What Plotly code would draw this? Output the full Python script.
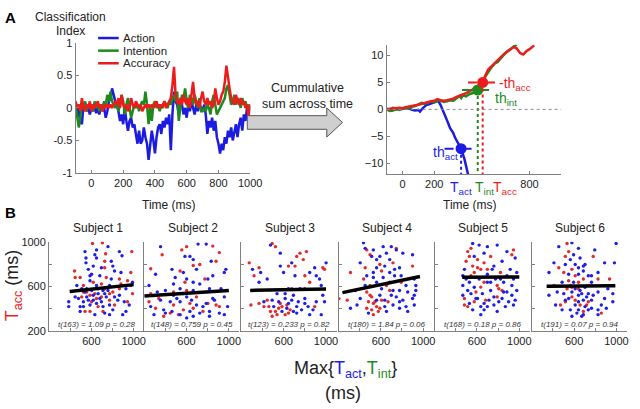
import plotly.graph_objects as go

W, H = 640, 409
FONT = "Liberation Sans, Arial, sans-serif"
C_BLUE = "#1c1ce0"
C_GREEN = "#1e8a1e"
C_RED = "#ec1c1c"
AX = "#808080"

# ---------------- Panel A (left): classification index ----------------
time_ms = list(range(-100, 1001, 10))
action_idx = [0.0, -0.15, 0.05, -0.2, -0.25, 0.05, 0.08, -0.05, 0.0, -0.1,
              0.0, -0.05, 0.02, -0.08, 0.0, -0.1, 0.05, -0.05, 0.0, -0.15,
              -0.05, 0.1, 0.15, 0.3, 0.2, 0.1, 0.05, -0.05, -0.2, -0.1,
              -0.25, 0.0, -0.2, -0.35, -0.2, -0.15, -0.3, -0.25, -0.4, -0.55,
              -0.35, -0.55, -0.5, -0.3, -0.45, -0.55, -0.8, -0.55, -0.35, -0.5,
              -0.7, -0.45, -0.3, -0.25, -0.4, -0.2, -0.3, -0.15, -0.25, -0.1,
              -0.65, -0.1, 0.25, 0.1, 0.05, -0.1, 0.15, 0.05, -0.1, 0.0,
              -0.15, 0.05, -0.05, 0.1, 0.0, -0.1, 0.05, -0.05, 0.05, 0.0,
              -0.05, 0.05, -0.1, -0.4, -0.2, -0.3, -0.15, -0.35, -0.2, -0.45,
              -0.55, -0.7, -0.55, -0.65, -0.45, -0.55, -0.35, -0.45, -0.3, -0.5,
              -0.35, -0.25, -0.45, -0.25, -0.15, -0.35, -0.1, -0.2, 0.0, -0.1, 0.05]
intention_idx = [0.05, -0.1, -0.3, -0.15, 0.05, 0.0, 0.1, -0.05, 0.05, 0.0,
                 0.05, -0.05, 0.1, 0.0, 0.05, -0.05, 0.05, 0.0, 0.1, 0.05,
                 0.2, 0.1, 0.25, 0.1, 0.05, 0.0, 0.1, -0.05, 0.05, 0.2,
                 0.1, -0.1, 0.05, 0.15, 0.0, -0.15, -0.05, 0.05, 0.0, 0.05,
                 -0.05, 0.05, 0.1, 0.05, 0.25, 0.05, -0.25, 0.0, -0.2, 0.05,
                 0.1, 0.0, 0.05, -0.05, 0.05, 0.0, 0.1, 0.05, 0.0, 0.1,
                 0.05, 0.15, 0.2, 0.1, 0.25, -0.2, 0.05, 0.2, 0.15, 0.3,
                 0.1, 0.0, 0.2, 0.15, 0.05, 0.2, 0.1, 0.0, 0.15, -0.05,
                 -0.05, 0.0, -0.05, 0.05, 0.0, -0.1, 0.1, 0.2, 0.05, -0.1,
                 -0.05, 0.0, 0.05, 0.1, 0.15, 0.3, 0.35, 0.2, 0.05, 0.1,
                 0.2, 0.05, 0.15, 0.1, 0.0, 0.15, 0.05, 0.1, 0.0, 0.05, -0.05]
accuracy_idx = [0.1, 0.0, 0.05, -0.05, 0.15, 0.0, -0.05, 0.05, 0.0, 0.1,
                -0.05, 0.05, 0.0, 0.05, 0.1, 0.0, 0.05, -0.05, 0.05, 0.0,
                0.05, 0.0, 0.05, 0.0, 0.05, 0.1, 0.05, 0.15, 0.0, 0.2,
                0.05, 0.0, 0.05, -0.05, 0.0, 0.15, 0.05, 0.0, 0.1, 0.05,
                0.0, 0.05, -0.05, 0.0, 0.05, 0.0, 0.05, 0.0, 0.05, 0.0,
                0.05, 0.1, 0.0, 0.05, 0.0, 0.05, 0.1, 0.0, 0.05, 0.1,
                0.15, 0.35, 0.63, 0.2, 0.1, 0.05, 0.15, 0.05, 0.2, 0.1,
                0.05, 0.15, 0.0, 0.2, 0.4, 0.15, 0.05, 0.1, 0.0, 0.15,
                0.25, 0.1, 0.05, 0.15, 0.05, 0.1, 0.0, 0.05, 0.3, 0.15,
                0.05, 0.1, 0.2, 0.25, 0.4, 0.65, 0.45, 0.3, 0.15, 0.1,
                0.05, 0.2, 0.1, 0.05, 0.15, 0.05, 0.1, 0.0, 0.05, -0.15, 0.05]
legend_names = ["Action", "Intention", "Accuracy"]

# ---------------- Panel A (right): cumulative sums ----------------
cum_act_t = [-100, -80, -60, -40, -20, 0, 20, 40, 60, 80, 100, 110, 130, 150, 170, 200, 225,
             240, 260, 280, 300, 320, 330, 350, 369, 390, 406, 420]
cum_act_v = [0.0, 0.1, -0.1, 0.0, 0.1, 0.2, 0.1, 0.2, -0.1, -0.2, -0.1, -0.4, 0.3, 0.8, 1.0, 1.3, 1.6,
             0.8, -0.5, -2.0, -3.5, -4.4, -5.2, -6.2, -7.3, -9.2, -11.5, -13.0]
cum_int_t = [-100, -80, -60, -40, -20, 0, 20, 40, 60, 80, 100, 120, 140, 160, 180, 200, 220, 240,
             260, 280, 300, 320, 340, 360, 370, 380, 400, 420, 440, 460, 474, 490, 500, 520, 540,
             560, 580, 600, 620, 640, 660, 680, 700, 720]
cum_int_v = [0.0, -0.3, -0.2, 0.1, -0.1, 0.1, 0.3, 0.2, 0.5, 0.6, 0.9, 1.2, 1.0, 1.3, 1.5, 1.3, 1.7, 1.6,
             1.4, 1.5, 1.7, 1.6, 2.0, 2.5, 2.1, 2.6, 2.4, 2.8, 3.0, 3.3, 3.6, 4.2, 5.0, 6.0, 7.0,
             7.8, 8.5, 8.8, 9.5, 10.2, 10.8, 11.2, 11.7, 12.0]
cum_acc_t = [-100, -80, -60, -40, -20, 0, 20, 40, 60, 80, 100, 120, 140, 160, 180, 200, 220, 240,
             260, 280, 300, 320, 340, 360, 380, 400, 420, 440, 460, 480, 505, 520, 540, 560, 580,
             600, 620, 640, 660, 680, 700, 720, 740, 760, 780, 800, 830]
cum_acc_v = [0.1, 0.0, 0.3, 0.2, 0.3, 0.2, 0.4, 0.5, 0.7, 0.8, 0.9, 1.0, 1.2, 1.4, 1.5, 1.6, 1.9, 1.7,
             1.6, 1.7, 1.8, 2.0, 2.3, 2.6, 2.8, 3.0, 3.3, 3.6, 4.0, 4.5, 5.0, 6.2, 7.4, 8.0, 8.6,
             9.1, 9.8, 10.3, 10.7, 11.2, 11.6, 11.3, 10.5, 10.2, 10.8, 11.2, 11.9]
thr_time = [369, 474, 505]          # act, int, acc
thr_value = [-7.3, 3.6, 5.0]
thr_lo = [265, 375, 412]
thr_hi = [450, 572, 603]

# ---------------- Panel B: per-subject scatter ----------------
subjects = ["Subject 1", "Subject 2", "Subject 3", "Subject 4", "Subject 5", "Subject 6"]
stats = ["t(163) = 1.09 p = 0.28", "t(148) = 0.759 p = 0.45", "t(123) = 0.233 p = 0.82",
         "t(180) = 1.84 p = 0.06", "t(168) = 0.18 p = 0.86", "t(191) = 0.07 p = 0.94"]
fit_x0 = [395, 200, 283, 237, 460, 340]
fit_x1 = [1000, 1000, 1000, 970, 1000, 990]
fit_y0 = [556, 516, 565, 545, 683, 603]
fit_y1 = [617, 565, 578, 690, 686, 606]

red_x = [
    [611, 704, 982, 735, 441, 494, 726, 726, 973, 942, 865, 803, 525, 587, 648, 772, 819, 664, 540, 942,
     447, 695, 525, 989, 618, 741, 880, 587, 710,
     556, 633, 726, 772, 602, 695, 509, 865],
    [369, 555, 601, 848, 910, 261, 539, 663, 725, 879, 773, 477, 601, 694, 245, 307, 477, 570, 755, 879,
     910, 384, 261, 632,
     446, 524, 663, 802, 338, 585],
    [274, 367, 491, 522, 723, 754, 815, 785, 645, 970, 986, 320, 800, 846, 676, 367, 444, 460, 522, 553,
     584, 630, 661, 491, 614, 893, 290,
     568, 537, 645, 475, 800, 413, 707],
    [204, 282, 467, 498, 452, 313, 437, 498, 467, 514, 483, 529, 560, 591, 514, 576, 653, 684, 715, 746,
     607, 792, 900, 668,
     498, 545, 607, 529, 467, 591],
    [512, 543, 528, 497, 559, 605, 667, 729, 636, 574, 930, 945, 822, 791, 806, 667, 636, 590, 481, 481,
     574, 791, 682,
     605, 698, 543, 837, 512],
    [533, 548, 517, 455, 502, 579, 610, 548, 641, 687, 734, 533, 579, 471, 517, 610, 657, 734, 857, 780,
     935, 687, 409,
     564, 641, 718, 579, 826],
]
red_y = [
    [985, 991, 913, 893, 739, 681, 826, 768, 725, 652, 580, 551, 551, 522, 493, 478, 435, 420, 377, 464,
     681, 623, 609, 536, 638, 681, 623, 377, 377,
     551, 536, 580, 536, 464, 507, 507, 667],
    [884, 928, 957, 962, 904, 759, 739, 788, 797, 826, 667, 551, 565, 507, 464, 406, 435, 391, 377, 435,
     420, 333, 536, 449,
     362, 348, 406, 449, 493, 638],
    [812, 768, 985, 957, 870, 899, 913, 841, 783, 768, 754, 696, 696, 638, 580, 449, 478, 420, 377, 406,
     420, 435, 391, 333, 348, 420, 435,
     449, 348, 362, 377, 580, 420, 783],
    [492, 478, 928, 884, 768, 725, 667, 609, 551, 507, 464, 449, 420, 406, 391, 377, 609, 565, 812, 942,
     739, 638, 783, 464,
     522, 464, 478, 348, 406, 797],
    [913, 942, 870, 826, 783, 841, 812, 870, 754, 725, 884, 928, 725, 609, 580, 638, 595, 551, 493, 435,
     464, 507, 478,
     768, 754, 696, 565, 420],
    [985, 913, 870, 768, 725, 754, 696, 652, 638, 667, 609, 580, 594, 435, 464, 478, 435, 464, 362, 870,
     667, 377, 609,
     609, 580, 435, 507, 667],
]
blue_x = [
    [549, 549, 633, 649, 757, 865, 890, 788, 819, 880, 602, 587, 649, 710, 772, 463, 556, 618, 695, 386,
     386, 494, 494, 633, 726, 803, 865, 911, 958, 927, 447, 525, 741, 587, 989, 973, 618, 680, 571, 788,
     927, 664, 556, 710, 896, 772,
     509, 540, 602, 618, 664, 680, 726, 757, 819, 850, 478, 571, 649, 772, 525, 587, 695, 803, 540, 649],
    [354, 709, 786, 632, 663, 462, 570, 493, 601, 663, 477, 848, 957, 972, 725, 323, 400, 539, 663, 817,
     245, 354, 446, 508, 601, 694, 786, 864, 957, 261, 384, 462, 539, 632, 663, 725, 817, 910, 988, 957,
     585, 833, 307,
     539, 647, 755, 817, 601, 400, 477, 570, 848, 926, 292, 694, 802],
    [475, 568, 305, 444, 568, 599, 676, 707, 846, 908, 1001, 939, 645, 537, 614, 692, 738, 800, 831, 908,
     970, 986, 692, 769, 846, 955, 645, 723, 584, 413, 491, 367,
     553, 630, 676, 723, 800, 877, 754, 614, 506, 955, 893, 382],
    [436, 452, 529, 622, 699, 746, 591, 560, 684, 808, 900, 405, 637, 777, 529, 684, 730, 916, 931, 838,
     777, 854, 900, 916, 931, 313, 375, 405, 591, 637, 715, 777, 808, 854, 653, 746, 452, 560, 359, 529,
     622, 684,
     514, 653, 560, 730, 792, 607, 699, 560, 777, 838, 637, 483, 916, 715, 467],
    [559, 620, 698, 791, 883, 961, 837, 760, 914, 976, 481, 466, 698, 620, 528, 466, 729, 852, 930, 976,
     883, 729, 651, 543, 466, 605, 713, 837, 899, 961, 528, 636, 760, 868, 945, 559, 667, 806, 698, 574,
     775,
     574, 667, 744, 822, 883, 945, 590, 667, 760, 852, 930, 512, 636, 791, 497, 698],
    [579, 641, 455, 564, 656, 703, 610, 517, 409, 362, 687, 641, 764, 826, 888, 981, 997, 795, 362, 440,
     502, 579, 656, 734, 826, 919, 966, 517, 610, 687, 764, 857, 966, 425, 564, 626, 687, 734, 826, 904,
     486, 703, 595, 764, 641,
     595, 687, 548, 610, 672, 718, 780, 548, 641, 703, 764, 641, 672, 826, 888, 486, 579, 734, 641],
]
blue_y = [
    [855, 812, 884, 855, 957, 913, 875, 826, 739, 725, 710, 652, 609, 565, 609, 609, 507, 478, 464, 464,
     420, 420, 377, 348, 362, 391, 522, 464, 435, 377, 507, 464, 507, 435, 638, 609, 783, 696, 754, 667,
     580, 536, 580, 420, 348, 348,
     580, 551, 565, 522, 580, 493, 536, 565, 507, 478, 493, 478, 449, 435, 420, 696, 768, 783, 913, 928],
    [957, 980, 980, 870, 841, 754, 725, 681, 667, 638, 623, 696, 725, 754, 623, 551, 565, 580, 565, 580,
     609, 478, 464, 493, 507, 435, 449, 478, 507, 420, 391, 377, 348, 377, 333, 362, 377, 362, 420, 348,
     870, 826, 710,
     464, 478, 420, 333, 319, 362, 522, 536, 493, 580, 348, 754, 667],
    [971, 899, 754, 667, 783, 725, 812, 696, 725, 696, 812, 667, 580, 536, 493, 522, 464, 493, 420, 464,
     522, 464, 377, 391, 348, 348, 449, 420, 377, 464, 478, 638,
     464, 406, 478, 362, 449, 391, 580, 536, 420, 609, 768, 725],
    [991, 942, 928, 957, 957, 928, 870, 841, 841, 899, 884, 812, 783, 768, 725, 725, 696, 667, 609, 609,
     565, 551, 493, 435, 565, 406, 435, 493, 522, 478, 435, 406, 478, 377, 377, 507, 609, 638, 565, 681,
     681, 638,
     870, 899, 768, 754, 696, 580, 522, 478, 464, 420, 420, 362, 522, 565, 696],
    [985, 971, 957, 971, 913, 855, 826, 783, 754, 725, 754, 696, 710, 667, 638, 609, 638, 638, 609, 565,
     551, 565, 536, 536, 522, 493, 478, 493, 464, 478, 449, 420, 435, 420, 435, 391, 391, 464, 638, 594,
     667,
     870, 899, 754, 667, 696, 667, 493, 449, 507, 551, 522, 565, 348, 377, 667, 420],
    [991, 942, 957, 841, 855, 797, 797, 797, 812, 725, 739, 710, 696, 725, 812, 812, 985, 928, 522, 551,
     536, 551, 565, 536, 551, 580, 536, 478, 435, 478, 478, 435, 464, 435, 391, 362, 348, 391, 391, 406,
     638, 594, 638, 638, 522,
     884, 783, 710, 580, 536, 507, 522, 493, 464, 420, 406, 391, 333, 348, 493, 391, 333, 696, 768],
]


def xd(a, b):
    return [a / W, b / W]


def yd(top, bottom):
    return [1 - bottom / H, 1 - top / H]


def px(x):
    return x / W


def py(y):
    return 1 - y / H


def note(text, x, y, size=12, color="#222", xanchor="center", **kw):
    d = dict(text=text, x=px(x), y=py(y), xref="paper", yref="paper", showarrow=False,
             xanchor=xanchor, yanchor="middle", font=dict(size=size, color=color), borderpad=0)
    d.update(kw)
    return d


fig = go.Figure()

# Panel A left
series_cols = [C_BLUE, C_GREEN, C_RED]
for name, vals, col in zip(legend_names, [action_idx, intention_idx, accuracy_idx], series_cols):
    fig.add_trace(go.Scatter(x=time_ms, y=vals, mode="lines", name=name, showlegend=False,
                             line=dict(color=col, width=2.5), xaxis="x", yaxis="y"))

# Panel A right
for t, v, col in [(cum_act_t, cum_act_v, C_BLUE), (cum_int_t, cum_int_v, C_GREEN), (cum_acc_t, cum_acc_v, C_RED)]:
    fig.add_trace(go.Scatter(x=t, y=v, mode="lines", line=dict(color=col, width=2.5),
                             showlegend=False, xaxis="x2", yaxis="y2"))
for i in range(3):
    fig.add_trace(go.Scatter(x=[thr_lo[i], thr_hi[i]], y=[thr_value[i], thr_value[i]], mode="lines",
                             line=dict(color=series_cols[i], width=2, dash="dash"), showlegend=False,
                             xaxis="x2", yaxis="y2"))
    fig.add_trace(go.Scatter(x=[thr_time[i], thr_time[i]], y=[thr_value[i], -12], mode="lines",
                             line=dict(color=series_cols[i], width=2, dash="dot"), showlegend=False,
                             xaxis="x2", yaxis="y2"))
    fig.add_trace(go.Scatter(x=[thr_time[i]], y=[thr_value[i]], mode="markers",
                             marker=dict(color=series_cols[i], size=11), showlegend=False,
                             xaxis="x2", yaxis="y2"))

# Panel B
B_LEFT = [50, 147, 246, 345, 443, 542]
B_W = 97
layout_axes = {}
annotations = []
for k in range(6):
    n = k + 3
    xa, ya = f"x{n}", f"y{n}"
    fig.add_trace(go.Scatter(x=red_x[k], y=red_y[k], mode="markers",
                             marker=dict(color="#e42a2a", size=3.4), showlegend=False, xaxis=xa, yaxis=ya))
    fig.add_trace(go.Scatter(x=blue_x[k], y=blue_y[k], mode="markers",
                             marker=dict(color="#1e1ee6", size=3.4), showlegend=False, xaxis=xa, yaxis=ya))
    fig.add_trace(go.Scatter(x=[fit_x0[k], fit_x1[k]], y=[fit_y0[k], fit_y1[k]], mode="lines",
                             line=dict(color="black", width=3.5), showlegend=False, xaxis=xa, yaxis=ya))
    layout_axes[f"xaxis{n}"] = dict(domain=xd(B_LEFT[k], B_LEFT[k] + B_W), range=[200, 1100], anchor=ya,
                                    tickvals=[600, 1000],
                                    minor=dict(tickvals=[200, 400, 800], ticks="inside", ticklen=3,
                                               tickcolor=AX),
                                    showline=True, linecolor=AX, ticks="inside", ticklen=3, tickcolor=AX,
                                    showgrid=False, zeroline=False, tickfont=dict(size=11, color="#222"))
    if k == 0:
        ymajor, yminor = [200, 600, 1000], [400, 800]
    else:
        ymajor, yminor = [], [200, 400, 600, 800, 1000]
    layout_axes[f"yaxis{n}"] = dict(domain=yd(243, 335), range=[200, 1000], anchor=xa,
                                    tickvals=ymajor, tickmode="array",
                                    minor=dict(tickvals=yminor, ticks="inside", ticklen=3, tickcolor=AX),
                                    showline=True, linecolor=AX, ticks="inside", ticklen=3, tickcolor=AX,
                                    showgrid=False, zeroline=False, tickfont=dict(size=11, color="#222"))
    annotations.append(note(subjects[k], B_LEFT[k] + B_W / 2 + 1, 229, size=12))
    annotations.append(dict(text=f"<i>{stats[k]}</i>", xref=f"{xa} domain", yref=f"{ya} domain",
                            x=0.5, y=0.07, xanchor="center", yanchor="middle", showarrow=False,
                            font=dict(size=8, color="#333")))

# Legend of panel A (drawn by hand to match the tight spacing)
legend_rows = [33, 46, 59]
shapes = []
for name, col, yy in zip(legend_names, series_cols, legend_rows):
    shapes.append(dict(type="line", xref="paper", yref="paper", x0=px(100), x1=px(121), y0=py(yy), y1=py(yy),
                       line=dict(color=col, width=2.5)))
    annotations.append(note(name, 124, yy, size=11.5, xanchor="left"))

annotations += [
    note("<b>A</b>", 11, 12, size=15, color="black"),
    note("<b>B</b>", 11, 213, size=15, color="black"),
    note("Classification", 72, 11, size=12),
    note("Index", 72, 26, size=12),
    note("Time (ms)", 172, 205, size=12),
    note("Time (ms)", 479, 205, size=12),
    note("Cummulative<br>sum across time", 313, 93, size=12.5, align="center"),
    note("-th<sub>acc</sub>", 508, 80, size=14, color=C_RED, xanchor="left"),
    note("th<sub>int</sub>", 503, 96, size=14, color=C_GREEN, xanchor="left"),
    note("th<sub>act</sub>", 454, 151, size=14, color=C_BLUE),
    note(f'<span style="color:{C_RED}">T<sub>acc</sub></span> (ms)', 14, 288, size=18, textangle=-90),
    note(f'Max{{<span style="color:{C_BLUE}">T<sub>act</sub></span>,'
         f'<span style="color:{C_GREEN}">T<sub>int</sub></span>}}', 352, 374, size=18),
    note("(ms)", 350, 399, size=18),
]
t_label_shift = [-12, -4, 9]
t_label_text = ["T<sub>act</sub>", "T<sub>int</sub>", "T<sub>acc</sub>"]
for i in range(3):
    annotations.append(dict(text=t_label_text[i], x=thr_time[i], xref="x2", xshift=t_label_shift[i],
                            xanchor="left", y=py(187), yref="paper", yanchor="middle", showarrow=False,
                            borderpad=0, font=dict(size=14, color=series_cols[i])))

# Arrow shape
ax0, ax1, axh, yb0, yb1, yh0, yh1, ytip = 252, 333, 349, 113, 127, 105, 135, 120
arrow_path = (f"M {px(ax0)} {py(yb0)} L {px(ax1)} {py(yb0)} L {px(ax1)} {py(yh0)} L {px(axh)} {py(ytip)} "
              f"L {px(ax1)} {py(yh1)} L {px(ax1)} {py(yb1)} L {px(ax0)} {py(yb1)} Z")
shapes += [
    dict(type="path", path=arrow_path, xref="paper", yref="paper", fillcolor="#cfcfcf",
         line=dict(color="#555", width=1)),
    dict(type="line", xref="x2", yref="y2", x0=-100, x1=1000, y0=0, y1=0,
         line=dict(color="#888", width=1, dash="dot")),
]

axis_common = dict(showline=True, linecolor=AX, ticks="inside", ticklen=3, tickcolor=AX, showgrid=False,
                   zeroline=False, tickfont=dict(size=11, color="#222"))

fig.update_layout(
    width=W, height=H, margin=dict(l=0, r=0, t=0, b=0), paper_bgcolor="white", plot_bgcolor="white",
    font=dict(family=FONT, color="#222"), showlegend=False,
    xaxis=dict(domain=xd(77, 255), range=[-100, 1000], anchor="y",
               tickvals=[0, 200, 400, 600, 800, 1000], **axis_common),
    yaxis=dict(domain=yd(38, 172), range=[-1, 1], anchor="x",
               tickvals=[-1, -0.5, 0, 0.5, 1], ticktext=["-1", "-0.5", "0", "0.5", "1"], **axis_common),
    xaxis2=dict(domain=xd(394, 572), range=[-100, 1000], anchor="y2", tickvals=[0, 200, 800], **axis_common),
    yaxis2=dict(domain=yd(40, 173), range=[-12, 12], anchor="x2", tickvals=[-10, -5, 0, 5, 10],
                **axis_common),
    annotations=annotations,
    shapes=shapes,
    **layout_axes,
)

fig.write_html("out.html", config={"displayModeBar": False},
               post_script="document.body.style.margin='0px';")
